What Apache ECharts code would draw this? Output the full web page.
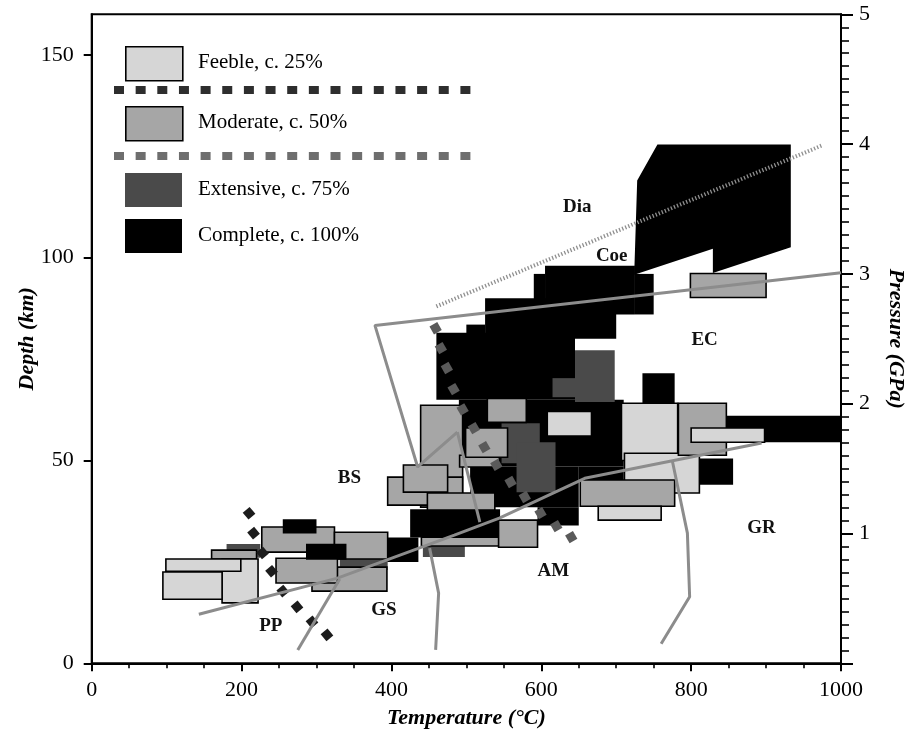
<!DOCTYPE html>
<html><head><meta charset="utf-8">
<script src="https://cdn.jsdelivr.net/npm/echarts@6/dist/echarts.min.js"></script>
<style>html,body{margin:0;padding:0;background:#fff}#c{width:915px;height:741px}</style>
</head><body><div id="c"></div>
<script>
// ---- axes ----
const tempTicks = [0, 200, 400, 600, 800, 1000];
const depthTicks = [0, 50, 100, 150];
const pressureTicks = [1, 2, 3, 4, 5];

// ---- rectangles: [Tmin, Tmax, depthMin, depthMax] (°C, km) ----
const completeRects = [
  [605, 725, 86, 98], [725, 750, 86, 96], [590, 605, 86, 96],
  [525, 700, 80, 90], [500, 525, 78, 83.5], [460, 645, 65, 81.5],
  [490, 710, 48.5, 65], [505, 650, 38.5, 48.5], [650, 710, 45, 48.5],
  [595, 650, 34, 38.5], [425, 545, 31, 38], [735, 778, 64, 71.5],
  [838, 1000, 54.5, 61], [782, 811, 50.5, 56], [811, 856, 44, 50.5],
  [392, 436, 25, 31]
];
const completePolygon = [
  [728, 119], [755, 127.9], [933, 127.9], [933, 102.6],
  [829, 96.2], [829, 102.2], [724, 95.8]
];
const extensiveRects = [
  [180, 225, 26, 29.4], [331, 395, 23, 25.7], [442, 498, 26.2, 28.9],
  [645, 698, 64.4, 77.2], [615, 645, 65.6, 70.3], [547, 598, 49.3, 59.2],
  [567, 619, 42.2, 54.5]
];
const feebleUnderRects = [
  [707, 782, 50, 64.1], [711, 811, 42, 51.8]
];
const moderateRects = [
  [160, 220, 25.7, 27.9], [227, 324, 27.4, 33.6], [324, 395, 25.7, 32.3],
  [294, 394, 17.8, 23.7], [246, 328, 19.8, 25.9],
  [439, 495, 38.5, 63.6], [395, 495, 39, 45.9], [416, 475, 42.2, 48.9],
  [448, 538, 37.8, 42], [440, 544, 28.9, 31.1], [491, 544, 48.4, 51.3],
  [499, 555, 50.8, 58], [528, 580, 59.4, 65.3], [543, 595, 28.6, 35.3],
  [652, 778, 38.7, 45.2], [783, 847, 51.3, 64.1], [799, 900, 90.2, 96.1]
];
const feebleRects = [
  [174, 222, 14.9, 25.7], [99, 199, 22.7, 25.7], [95, 174, 15.8, 22.5],
  [608, 667, 56, 62.1], [800, 898, 54.5, 58], [676, 760, 35.3, 38.7]
];
const completeTopRects = [
  [255, 300, 32, 35.5], [286, 340, 25.5, 29.5]
];

// ---- boundary lines: [T, depth] ----
const lineMain = [[143, 12.1], [328, 21.0], [484, 31.6], [544, 35.8], [658, 45.6], [894, 54.3]];
const lineBlueschist = [[1000, 96.3], [378, 83.3], [435, 48.4], [488, 57.0]];
const lineBlueschist2 = [[488, 57.0], [518, 34.8]];
const lineGsAm = [[459, 3.3], [463, 17.3], [451, 28.4]];
const lineppGs = [[275, 3.3], [331, 20.8]];
const lineAmGr = [[760, 4.8], [798, 16.4], [795, 32.1], [775, 49.8]];
const lineCoeDia = [[460, 88.0], [975, 127.7]];

// ---- isograds (square markers) ----
const blackIsograd = [[210, 37.0], [216, 32.1], [228, 27.2], [240, 22.7], [255, 17.8], [274, 13.9], [294, 10.2], [314, 7.0]];
const grayIsograd = [[459, 82.6], [466, 77.7], [474, 72.8], [483, 67.6], [495, 62.6], [510, 58.0], [524, 53.3], [540, 48.9], [559, 44.7], [578, 41.0], [599, 37.0], [620, 33.8], [640, 31.1]];

// ---- field labels ----
const fieldNames = ['Dia', 'Coe', 'EC', 'BS', 'GS', 'PP', 'AM', 'GR'];
const fieldT = [648, 694, 818, 344, 390, 239, 616, 894];
const fieldD = [112.4, 100.5, 79.6, 45.6, 13.1, 9.2, 22.7, 33.3];

// ---- legend ----
const legendNames = ['Feeble, c. 25%', 'Moderate, c. 50%', 'Extensive, c. 75%', 'Complete, c. 100%'];

const FONT = 'Liberation Serif';
const COL = { feeble: '#d6d6d6', moderate: '#a6a6a6', extensive: '#4a4a4a', complete: '#000000', line: '#8c8c8c' };

function rectSeries(data, fill, stroke) {
  return {
    type: 'custom', data: data, silent: true, animation: false,
    encode: { x: [0, 1], y: [2, 3] },
    renderItem: function (params, api) {
      const a = api.coord([api.value(0), api.value(3)]);
      const b = api.coord([api.value(1), api.value(2)]);
      return {
        type: 'rect',
        shape: { x: a[0], y: a[1], width: b[0] - a[0], height: b[1] - a[1] },
        style: { fill: fill, stroke: stroke || null, lineWidth: stroke ? 1.6 : 0 }
      };
    }
  };
}
function lineSeries(data, extra) {
  return Object.assign({
    type: 'line', data: data, symbol: 'none', silent: true, animation: false,
    lineStyle: { color: COL.line, width: 3 }
  }, extra || {});
}

const chart = echarts.init(document.getElementById('c'), null, { renderer: 'canvas' });

const graphics = [];
const boxTops = [46, 106, 173, 219];
const boxFills = [COL.feeble, COL.moderate, COL.extensive, COL.complete];
for (let i = 0; i < 4; i++) {
  graphics.push({ type: 'rect', left: 125, top: boxTops[i], shape: { width: 57, height: 34 },
    style: { fill: boxFills[i], stroke: i < 2 ? '#000' : null, lineWidth: i < 2 ? 1.6 : 0 } });
  graphics.push({ type: 'text', left: 198, top: boxTops[i] + 6,
    style: { text: legendNames[i], font: '21px "' + FONT + '"', fill: '#000' } });
}
for (let k = 0; k < 17; k++) {
  graphics.push({ type: 'rect', left: 114 + k * 21.65, top: 86, shape: { width: 10, height: 8 }, style: { fill: '#2e2e2e' } });
  graphics.push({ type: 'rect', left: 114 + k * 21.65, top: 152, shape: { width: 10, height: 8 }, style: { fill: '#6e6e6e' } });
}

const plain = v => String(v);

const option = {
  backgroundColor: '#fff',
  animation: false,
  textStyle: { fontFamily: FONT },
  grid: { left: 91.7, right: 73, top: 14.3, bottom: 77.7, show: true, borderColor: '#000', borderWidth: 2 },
  xAxis: {
    type: 'value', min: 0, max: 1000, interval: 200,
    name: 'Temperature (°C)', nameLocation: 'middle', nameGap: 44, nameMoveOverlap: false,
    nameTextStyle: { fontFamily: FONT, fontSize: 22, fontWeight: 'bold', fontStyle: 'italic', color: '#000' },
    axisLine: { lineStyle: { color: '#000', width: 2 } },
    axisTick: { show: true, length: 8, lineStyle: { color: '#000', width: 2 } },
    minorTick: { show: true, splitNumber: 4, length: 5, lineStyle: { color: '#000', width: 1.6 } },
    axisLabel: { fontFamily: FONT, fontSize: 22, color: '#000', margin: 16, formatter: plain },
    splitLine: { show: false }
  },
  yAxis: [{
    type: 'value', min: 0, max: 160, interval: 50, position: 'left',
    name: 'Depth (km)', nameLocation: 'middle', nameGap: 53, nameRotate: 90, nameMoveOverlap: false,
    nameTextStyle: { fontFamily: FONT, fontSize: 22, fontWeight: 'bold', fontStyle: 'italic', color: '#000' },
    axisLine: { show: true, lineStyle: { color: '#000', width: 2 } },
    axisTick: { show: true, length: 8, lineStyle: { color: '#000', width: 2 }, customValues: depthTicks },
    axisLabel: { fontFamily: FONT, fontSize: 22, color: '#000', margin: 18, customValues: depthTicks, formatter: plain },
    splitLine: { show: false }
  }, {
    type: 'value', min: 0, max: 5, interval: 1, position: 'right',
    name: 'Pressure (GPa)', nameLocation: 'middle', nameGap: 44, nameRotate: -90,
    nameTextStyle: { fontFamily: FONT, fontSize: 22, fontWeight: 'bold', fontStyle: 'italic', color: '#000' },
    axisLine: { show: true, lineStyle: { color: '#000', width: 2 } },
    axisTick: { show: true, length: 12, lineStyle: { color: '#000', width: 2 } },
    minorTick: { show: true, splitNumber: 10, length: 8, lineStyle: { color: '#000', width: 1.6 } },
    axisLabel: { fontFamily: FONT, fontSize: 22, color: '#000', margin: 18, customValues: pressureTicks, formatter: plain },
    splitLine: { show: false }
  }],
  graphic: graphics,
  series: [
    rectSeries(completeRects, COL.complete),
    {
      type: 'custom', data: [0], silent: true, animation: false,
      renderItem: function (params, api) {
        return { type: 'polygon', shape: { points: completePolygon.map(p => api.coord(p)) }, style: { fill: COL.complete } };
      }
    },
    rectSeries(extensiveRects, COL.extensive),
    rectSeries(feebleUnderRects, COL.feeble, '#000'),
    rectSeries(moderateRects, COL.moderate, '#000'),
    rectSeries(feebleRects, COL.feeble, '#000'),
    rectSeries(completeTopRects, COL.complete),
    lineSeries(lineMain),
    lineSeries(lineBlueschist),
    lineSeries(lineBlueschist2),
    lineSeries(lineGsAm),
    lineSeries(lineppGs),
    lineSeries(lineAmGr),
    lineSeries(lineCoeDia, { lineStyle: { color: '#8f8f8f', width: 4, type: [1.3, 2] } }),
    { type: 'scatter', data: blackIsograd, symbol: 'rect', symbolSize: 9, symbolRotate: 40, silent: true,
      itemStyle: { color: '#1c1c1c', opacity: 1 } },
    { type: 'scatter', data: grayIsograd, symbol: 'rect', symbolSize: 9, symbolRotate: 30, silent: true,
      itemStyle: { color: '#5a5a5a', opacity: 1 } },
    { type: 'scatter', symbolSize: 0, silent: true, itemStyle: { opacity: 1 },
      data: fieldNames.map((n, i) => ({ name: n, value: [fieldT[i], fieldD[i]] })),
      label: { show: true, position: 'inside', formatter: '{b}', fontFamily: FONT, fontSize: 19, fontWeight: 'bold', color: '#111', opacity: 1 } }
  ]
};
chart.setOption(option);
</script></body></html>
